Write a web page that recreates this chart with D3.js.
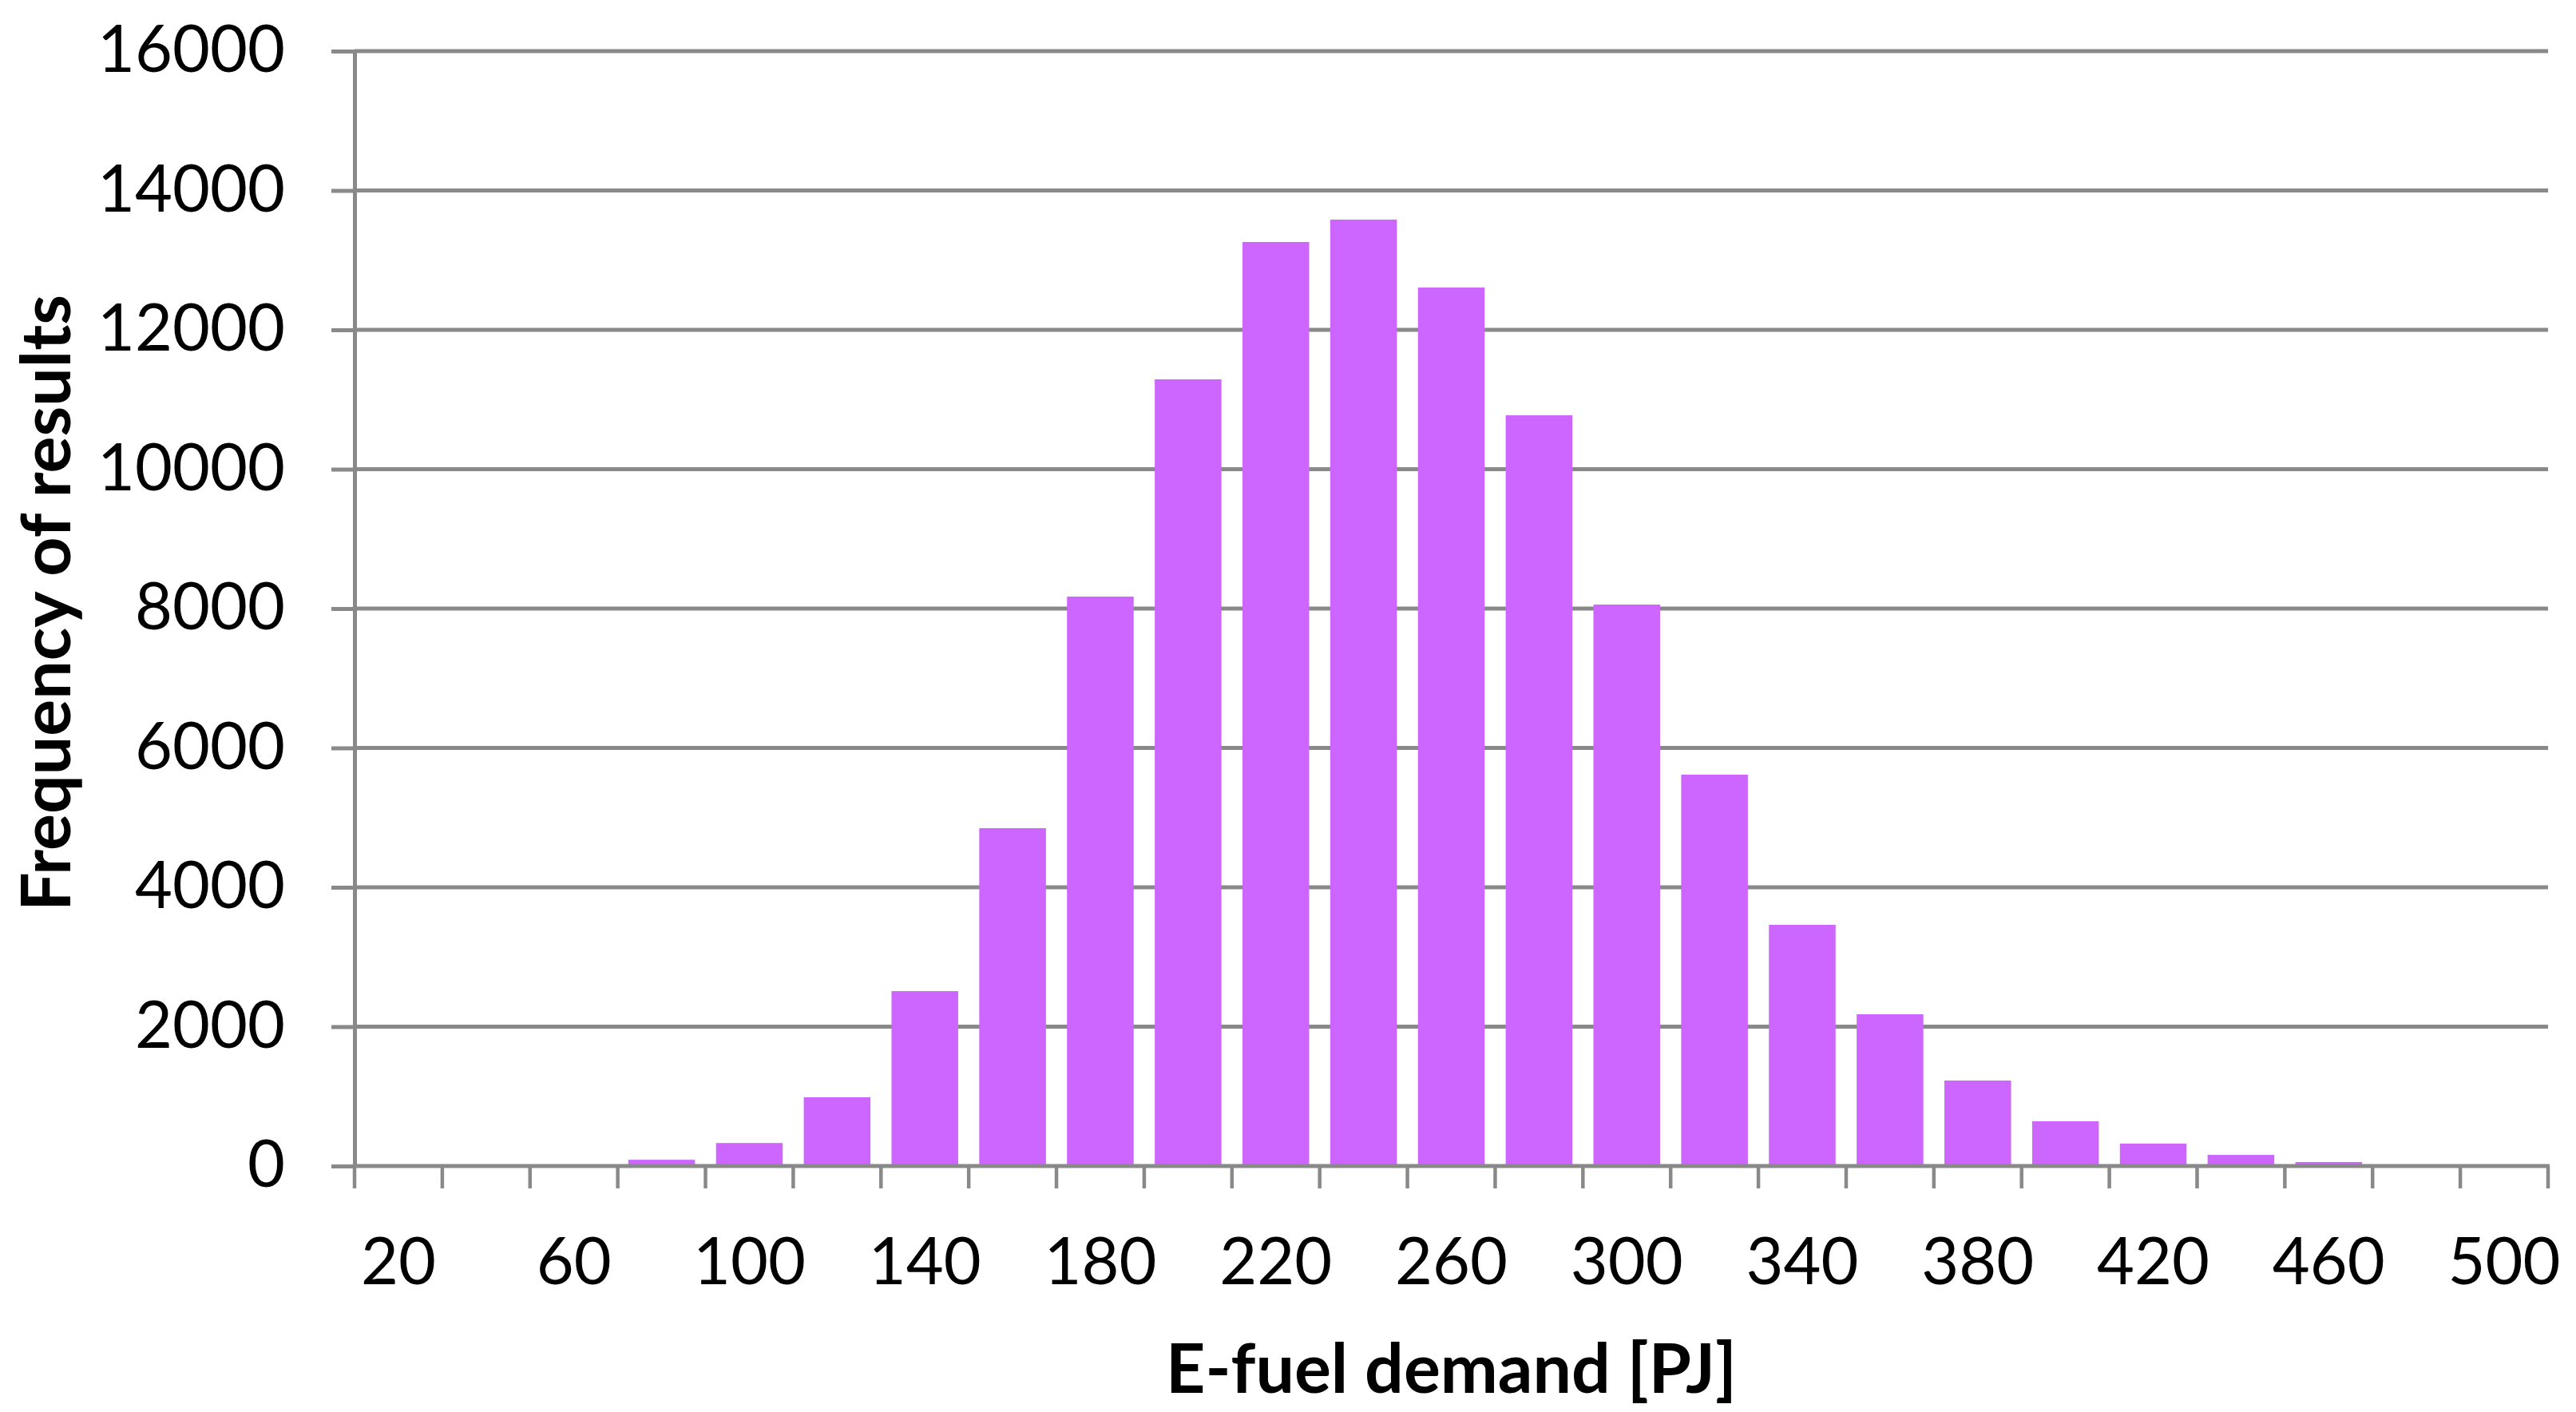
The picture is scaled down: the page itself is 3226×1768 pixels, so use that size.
<!DOCTYPE html>
<html>
<head>
<meta charset="utf-8">
<script src="https://cdn.jsdelivr.net/npm/d3@7"></script>
<style>
  html, body { margin: 0; padding: 0; background: #ffffff; }
  svg { display: block; }
</style>
</head>
<body>
<svg id="chart" width="3226" height="1768"></svg>
<script>
// ---- Data ----
const categories = [20, 40, 60, 80, 100, 120, 140, 160, 180, 200, 220, 240, 260,
                    280, 300, 320, 340, 360, 380, 400, 420, 440, 460, 480, 500];
const frequencies = [0, 0, 0, 90, 330, 987, 2510, 4848, 8172, 11290, 13261, 13582, 12607,
                     10774, 8057, 5616, 3461, 2178, 1227, 642, 322, 160, 57, 0, 0];
const yTicks = [0, 2000, 4000, 6000, 8000, 10000, 12000, 14000, 16000];
const xLabelCats = [20, 60, 100, 140, 180, 220, 260, 300, 340, 380, 420, 460, 500];
const xTitle = "E-fuel demand [PJ]";
const yTitle = "Frequency of results";

// ---- Layout ----
const plot = { left: 444, right: 3191, top: 64, bottom: 1460 };
const gridColor = "#898989";
const barColor = "#CC66FF";
const fontFamily = "Lato, 'Open Sans', 'Liberation Sans', sans-serif";
const fontSize = 81;
const titleSize = 86;

const svg = d3.select("#chart");

const x = d3.scaleBand()
  .domain(categories)
  .range([plot.left, plot.right])
  .paddingInner(0.24)
  .paddingOuter(0.12);

const y = d3.scaleLinear()
  .domain([0, 16000])
  .range([plot.bottom, plot.top]);

// Gridlines (behind bars)
svg.append("g")
  .selectAll("line")
  .data(yTicks.filter(d => d !== 0))
  .join("line")
  .attr("x1", plot.left)
  .attr("x2", plot.right)
  .attr("y1", d => y(d))
  .attr("y2", d => y(d))
  .attr("stroke", gridColor)
  .attr("stroke-width", 5);

// Bars
svg.append("g")
  .selectAll("rect")
  .data(categories.map((c, i) => ({ c, v: frequencies[i] })))
  .join("rect")
  .attr("x", d => x(d.c))
  .attr("width", x.bandwidth())
  .attr("y", d => y(d.v))
  .attr("height", d => y(0) - y(d.v))
  .attr("fill", barColor);

// Y axis
const yAxis = d3.axisLeft(y)
  .tickValues(yTicks)
  .tickSize(29)
  .tickSizeOuter(0)
  .tickPadding(58)
  .tickFormat(d3.format("d"));

const gy = svg.append("g")
  .attr("transform", `translate(${plot.left},0)`)
  .call(yAxis);
gy.select(".domain").attr("stroke", gridColor).attr("stroke-width", 5);
gy.selectAll(".tick line").attr("stroke", gridColor).attr("stroke-width", 5);
gy.selectAll(".tick text")
  .attr("fill", "#000")
  .style("font-family", fontFamily)
  .style("font-size", fontSize + "px");

// X axis baseline (on top of bars)
svg.append("line")
  .attr("x1", plot.left)
  .attr("x2", plot.right + 2)
  .attr("y1", y(0))
  .attr("y2", y(0))
  .attr("stroke", gridColor)
  .attr("stroke-width", 5);

// X tick marks at band boundaries
const boundaryX = i => x.range()[0] + i * x.step();
svg.append("g")
  .selectAll("line")
  .data(d3.range(categories.length + 1))
  .join("line")
  .attr("x1", boundaryX)
  .attr("x2", boundaryX)
  .attr("y1", y(0))
  .attr("y2", y(0) + 28)
  .attr("stroke", gridColor)
  .attr("stroke-width", 4.5);

// X tick labels (every other category)
const xAxis = d3.axisBottom(x)
  .tickValues(xLabelCats)
  .tickSize(0)
  .tickPadding(90);
const gx = svg.append("g")
  .attr("transform", `translate(0,${plot.bottom})`)
  .call(xAxis);
gx.select(".domain").remove();
gx.selectAll(".tick text")
  .attr("fill", "#000")
  .style("font-family", fontFamily)
  .style("font-size", fontSize + "px");

// Axis titles
svg.append("text")
  .attr("x", (plot.left + plot.right) / 2)
  .attr("y", 1744)
  .attr("text-anchor", "middle")
  .style("font-family", fontFamily)
  .style("font-weight", "bold")
  .style("font-size", titleSize + "px")
  .attr("fill", "#000")
  .text(xTitle);

svg.append("text")
  .attr("transform", `translate(88,755) rotate(-90)`)
  .attr("text-anchor", "middle")
  .style("font-family", fontFamily)
  .style("font-weight", "bold")
  .style("font-size", titleSize + "px")
  .attr("fill", "#000")
  .text(yTitle);
</script>
</body>
</html>
